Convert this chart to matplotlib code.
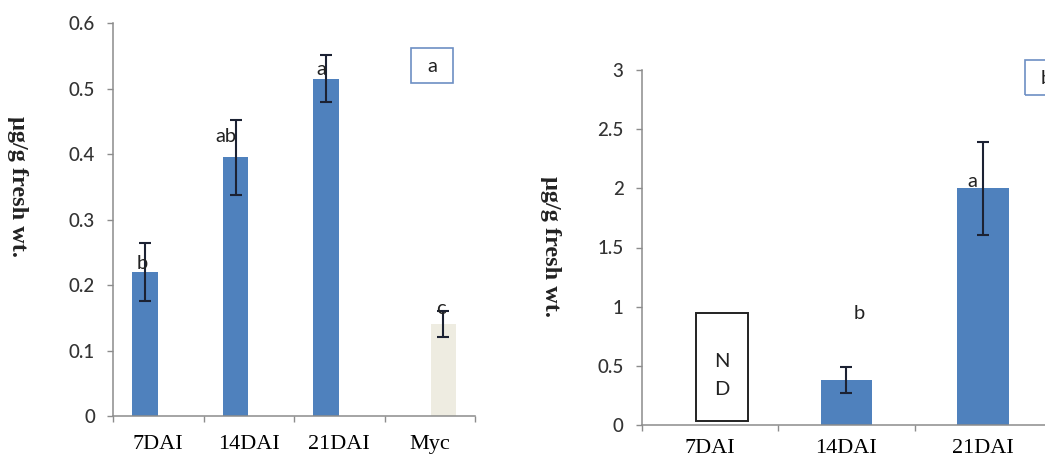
import numpy as np
import matplotlib.pyplot as plt
from matplotlib.patches import Rectangle

# panel a: content at 7, 14 and 21 days after inoculation, plus mycelium
left_cats = ['7DAI', '14DAI', '21DAI', 'Myc']
left_vals = [0.22, 0.395, 0.515, 0.14]
left_err = [0.045, 0.057, 0.036, 0.02]
left_series = [0, 0, 0, 1]          # 0 = infected tissue, 1 = mycelium
left_letters = ['b', 'ab', 'a', 'c']

# panel b: 7DAI not detected
right_cats = ['7DAI', '14DAI', '21DAI']
right_vals = [np.nan, 0.38, 2.0]
right_err = [np.nan, 0.107, 0.395]
right_letters = ['', 'b', 'a']

blue = '#4f81bd'
beige = '#eeece1'
axis_grey = '#8c8c8c'
tick_grey = '#333333'
sans = ['Lato', 'DejaVu Sans']
serif = ['Liberation Serif', 'DejaVu Serif']

fig = plt.figure(figsize=(10.45, 4.59), dpi=100)


def style_axes(ax, n, ymax, ystep):
    for s in ['top', 'right']:
        ax.spines[s].set_visible(False)
    for s in ['left', 'bottom']:
        ax.spines[s].set_color(axis_grey)
        ax.spines[s].set_linewidth(1.1)
    ax.set_xlim(-0.5, n - 0.5)
    ax.set_ylim(0, ymax)
    ticks = np.arange(0, ymax + ystep / 2, ystep)
    ax.set_yticks(ticks)
    ax.set_yticklabels(['%g' % t for t in ticks], family=sans, fontsize=13.5,
                       color=tick_grey, fontweight='medium')
    ax.tick_params(axis='y', length=4, width=1, color=axis_grey, pad=9)
    # category labels in the middle, tick marks on the boundaries
    ax.set_xticks(np.arange(n))
    ax.tick_params(axis='x', which='major', length=0, pad=14)
    ax.set_xticks(np.arange(n + 1) - 0.5, minor=True)
    ax.tick_params(axis='x', which='minor', length=4, width=1, color=axis_grey,
                   direction='out')


# ---- panel a ----
ax1 = fig.add_axes([113 / 1045, 1 - 416 / 459, 362 / 1045, 392.7 / 459])
style_axes(ax1, len(left_cats), 0.6, 0.1)
ax1.set_xticklabels(left_cats, family=serif, fontsize=16, color='black')

w1 = 0.28
x1 = np.arange(len(left_cats))
offs = np.array([-0.145, 0.15])[left_series]
cols = [blue if s == 0 else beige for s in left_series]
ax1.bar(x1 + offs, left_vals, width=w1, color=cols, zorder=2)
ax1.errorbar(x1 + offs, left_vals, yerr=left_err, fmt='none', ecolor='#1c2233',
             elinewidth=1.5, capsize=4.3, capthick=1.5, zorder=3)

lab_dx = [-3, -10, -5, -2]
lab_dy = [0, 12, 1, 7]
for xi, v, t, dx, dy in zip(x1 + offs, left_vals, left_letters, lab_dx, lab_dy):
    ax1.annotate(t, (xi, v), xytext=(dx, dy), textcoords='offset pixels',
                 ha='center', va='bottom', family=sans, fontsize=14.5,
                 color='#222222', zorder=4)

# ---- panel b ----
ax2 = fig.add_axes([641.7 / 1045, 1 - 425 / 459, 409.5 / 1045, 355 / 459])
style_axes(ax2, len(right_cats), 3, 0.5)
ax2.set_xticklabels(right_cats, family=serif, fontsize=16, color='black')
ax2.tick_params(axis='x', which='major', pad=10)

w2 = 0.38
x2 = np.arange(len(right_cats))
ax2.bar(x2, right_vals, width=w2, color=blue, zorder=2)
ax2.errorbar(x2, right_vals, yerr=right_err, fmt='none', ecolor='#1c2233',
             elinewidth=1.5, capsize=4.5, capthick=1.5, zorder=3)

rlab_dx = [0, 13, -11]
rlab_dy = [0, 58, -2]
for xi, v, t, dx, dy in zip(x2, right_vals, right_letters, rlab_dx, rlab_dy):
    if t:
        ax2.annotate(t, (xi, v), xytext=(dx, dy), textcoords='offset pixels',
                     ha='center', va='bottom', family=sans, fontsize=14.5,
                     color='#222222', zorder=4)

# not detected marker for 7DAI
ax2.add_patch(Rectangle((-0.104, 0.03), w2 + 0.005, 0.914, facecolor='white',
                        edgecolor='#222222', linewidth=1.4, zorder=2))
ax2.text(0.088, 0.535, 'N', ha='center', va='center', family=sans, fontsize=14.5,
         color='#222222')
ax2.text(0.088, 0.296, 'D', ha='center', va='center', family=sans, fontsize=14.5,
         color='#222222')

# panel tags
for (px, py, t) in [(411, 48, 'a'), (1025, 60, 'b')]:
    fig.patches.append(Rectangle((px / 1045, 1 - (py + 35) / 459), 42 / 1045, 35 / 459,
                                 transform=fig.transFigure, fill=False,
                                 edgecolor='#6d8fc4', linewidth=1.2))
    fig.text((px + 21) / 1045, 1 - (py + 19) / 459, t, ha='center', va='center',
             family=sans, fontsize=14.5, color='#222222')

# y axis titles
for (lx, ly) in [(17, 187), (550, 246)]:
    fig.text(lx / 1045, 1 - ly / 459, 'μg/g fresh wt.', rotation=270,
             ha='center', va='center', family=serif, fontsize=17.5,
             fontweight='bold', color='#222222')

fig.savefig('out.png', dpi=100)
